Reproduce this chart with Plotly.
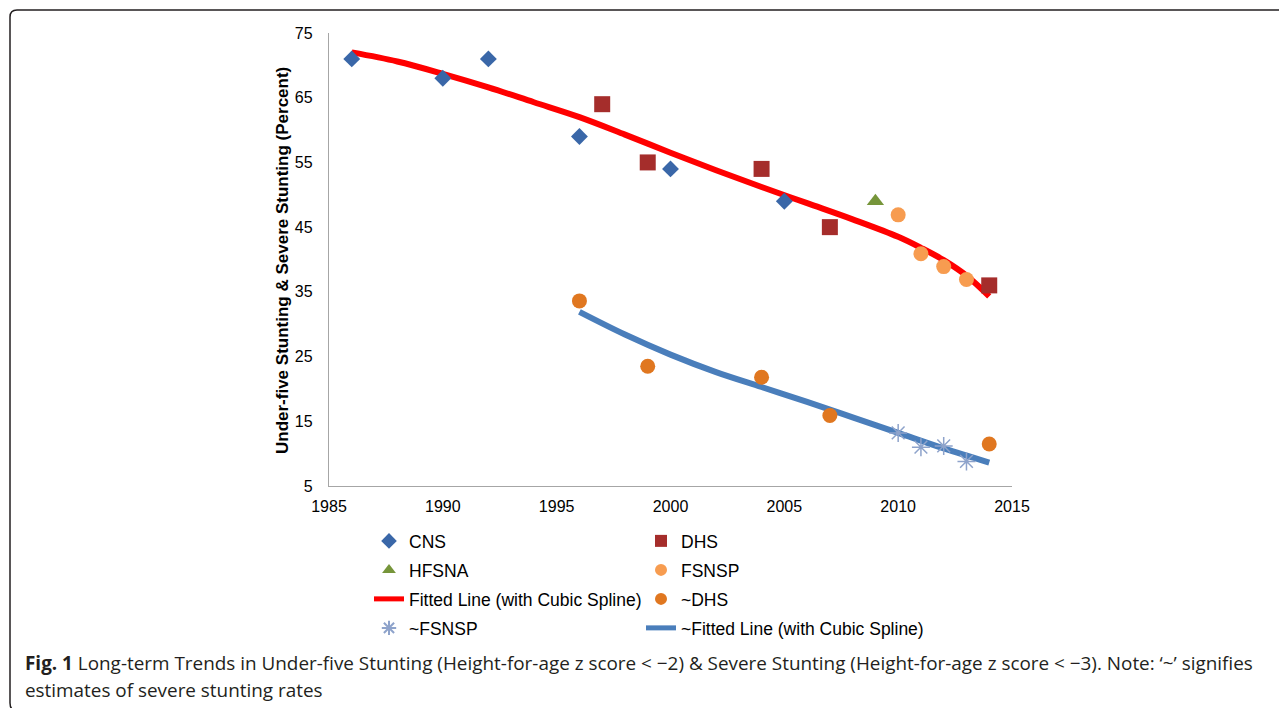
import plotly.graph_objects as go

# ---------------- data ----------------
cns_year = [1986, 1990, 1992, 1996, 2000, 2005]
cns_val = [71, 68, 71, 59, 54, 49]

dhs_year = [1997, 1999, 2004, 2007, 2014]
dhs_val = [64, 55, 54, 45, 36]

hfsna_year = [2009]
hfsna_val = [49]

fsnsp_year = [2010, 2011, 2012, 2013]
fsnsp_val = [46.9, 40.9, 38.9, 36.9]

sdhs_year = [1996, 1999, 2004, 2007, 2014]
sdhs_val = [33.6, 23.5, 21.8, 15.9, 11.5]

sfsnsp_year = [2010, 2011, 2012, 2013]
sfsnsp_val = [13.2, 11.0, 11.2, 8.8]

fit_year = [1986, 1988, 1990, 1992, 1994, 1996, 1998, 2000, 2002, 2004, 2006, 2008, 2010, 2011, 2012, 2013, 2014]
fit_val = [72.0, 70.6, 68.7, 66.6, 64.3, 62.0, 59.3, 56.5, 53.8, 51.2, 48.7, 46.2, 43.5, 41.8, 39.9, 37.5, 34.3]

sfit_year = [1996, 1998, 2000, 2002, 2004, 2006, 2008, 2010, 2012, 2014]
sfit_val = [31.9, 28.4, 25.3, 22.6, 20.3, 18.0, 15.6, 13.2, 10.8, 8.6]

y_ticks = [5, 15, 25, 35, 45, 55, 65, 75]
x_ticks = [1985, 1990, 1995, 2000, 2005, 2010, 2015]

W, H = 1287, 708
OFF = 8  # page body margin
# plot area in screenshot pixels
SL, SR, ST, SB = 329, 1012, 33, 486
L, R, T, B = SL - OFF, SR - OFF, ST - OFF, SB - OFF

def px(x):
    return (x - SL) / (SR - SL)

def py(y):
    return (SB - y) / (SB - ST)

FONT = "Liberation Sans, Arial, sans-serif"

fig = go.Figure()

# fitted lines first (markers on top)
fig.add_trace(go.Scatter(x=fit_year, y=fit_val, mode="lines", line=dict(color="#FF0000", width=6, shape="spline", smoothing=1.0),
                         name="Fitted Line (with Cubic Spline)", legend="legend5"))
fig.add_trace(go.Scatter(x=sfit_year, y=sfit_val, mode="lines", line=dict(color="#4A7EBB", width=6, shape="spline"),
                         name="~Fitted Line (with Cubic Spline)", legend="legend8"))

fig.add_trace(go.Scatter(x=cns_year, y=cns_val, mode="markers", name="CNS", legend="legend",
                         marker=dict(symbol="diamond", size=13, color="#3A67A8")))
fig.add_trace(go.Scatter(x=dhs_year, y=dhs_val, mode="markers", name="DHS", legend="legend2",
                         marker=dict(symbol="square", size=16, color="#A52D2B")))
fig.add_trace(go.Scatter(x=hfsna_year, y=hfsna_val, mode="markers", name="HFSNA", legend="legend3",
                         marker=dict(symbol="triangle-up", size=15, color="#76953A")))
fig.add_trace(go.Scatter(x=fsnsp_year, y=fsnsp_val, mode="markers", name="FSNSP", legend="legend4",
                         marker=dict(symbol="circle", size=15, color="#F79C50")))
fig.add_trace(go.Scatter(x=sdhs_year, y=sdhs_val, mode="markers", name="~DHS", legend="legend6",
                         marker=dict(symbol="circle", size=15, color="#E07720")))
fig.add_trace(go.Scatter(x=sfsnsp_year, y=sfsnsp_val, mode="markers", name="~FSNSP", legend="legend7",
                         marker=dict(symbol="asterisk", size=15, color="#8EA3CB",
                                     line=dict(color="#8EA3CB", width=1.5))))

# legends: one per entry, 2 columns x 4 rows (screenshot pixel positions)
col_x = [369, 641]
row_y = [541, 570, 599, 628]
legend_layout = {}
names = ["legend", "legend2", "legend3", "legend4", "legend5", "legend6", "legend7", "legend8"]
for i, nm in enumerate(names):
    r, c = divmod(i, 2)
    legend_layout[nm] = dict(
        x=(col_x[c] - OFF) / W, y=1 - (row_y[r] - OFF) / H, xref="container", yref="container",
        xanchor="left", yanchor="middle", bgcolor="rgba(0,0,0,0)", borderwidth=0,
        font=dict(family=FONT, size=17.5, color="#000000"), itemsizing="constant",
    )

fig.update_layout(
    width=W, height=H,
    margin=dict(l=L, r=W - R, t=T, b=H - B, autoexpand=False),
    paper_bgcolor="white", plot_bgcolor="white",
    showlegend=True,
    **legend_layout,
)

fig.update_xaxes(range=[1985, 2015], tickvals=x_ticks, ticktext=[str(v) for v in x_ticks],
                 showgrid=False, zeroline=False, showline=True, linecolor="#A6A6A6", linewidth=1.3,
                 ticks="", tickfont=dict(family=FONT, size=16, color="#000000"), ticklabelstandoff=6,
                 automargin=False)
fig.update_yaxes(range=[5, 75], tickvals=y_ticks, ticktext=[str(v) for v in y_ticks],
                 showgrid=False, zeroline=False, showline=True, linecolor="#A6A6A6", linewidth=1.3,
                 ticks="", tickfont=dict(family=FONT, size=16, color="#000000"), ticklabelstandoff=12,
                 automargin=False)

# y-axis title
fig.add_annotation(text="<b>Under-five Stunting & Severe Stunting (Percent)</b>", textangle=-90,
                   xref="paper", yref="paper", x=px(282), y=py(261), showarrow=False,
                   xanchor="center", yanchor="middle",
                   font=dict(family=FONT, size=17, color="#000000"))

# caption
CAP_FONT = "Open Sans, Noto Sans, sans-serif"
fig.add_annotation(text="<b>Fig. 1</b> Long-term Trends in Under-five Stunting (Height-for-age z score &lt; \u22122) &amp; Severe Stunting (Height-for-age z score &lt; \u22123). Note: \u2018~\u2019 signifies",
                   xref="paper", yref="paper", x=px(23), y=py(663), showarrow=False,
                   xanchor="left", yanchor="middle", font=dict(family=CAP_FONT, size=18.9, color="#231F20"))
fig.add_annotation(text="estimates of severe stunting rates",
                   xref="paper", yref="paper", x=px(23), y=py(690), showarrow=False,
                   xanchor="left", yanchor="middle", font=dict(family=CAP_FONT, size=18.9, color="#231F20"))

# frame
def P(x, y):
    return f"{px(x)},{py(y)}"

path = (f"M {P(17, 711)} Q {P(10, 711)} {P(10, 703)} L {P(10, 17)} "
        f"Q {P(10, 10)} {P(17, 10)} L {P(1300, 10)}")
fig.add_shape(type="path", path=path, xref="paper", yref="paper",
              line=dict(color="#231F20", width=1.5), layer="above")

fig.write_html("out.html")
